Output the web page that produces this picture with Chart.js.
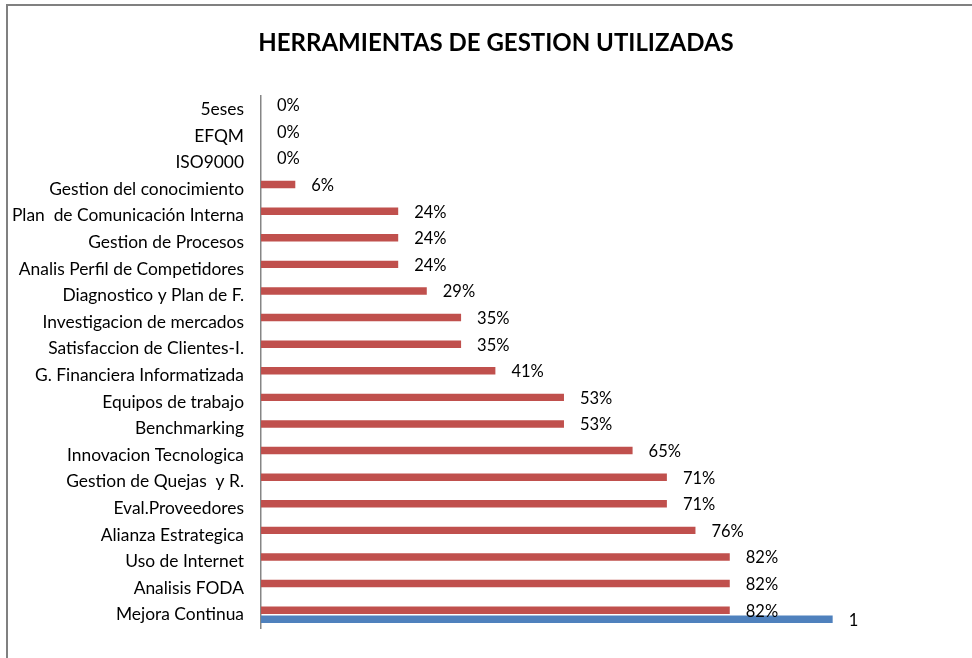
<!DOCTYPE html>
<html>
<head>
<meta charset="utf-8">
<script src="https://cdn.jsdelivr.net/npm/chart.js@4/dist/chart.umd.min.js"></script>
<style>
  html, body { margin: 0; padding: 0; background: #fff; overflow: hidden; }
  .frame { position: absolute; left: 6px; top: 4px; width: 1000px; height: 700px;
           border-left: 2px solid #808080; border-top: 2px solid #808080; }
  #wrap { position: absolute; left: 0; top: 0; width: 972px; height: 658px; }
</style>
</head>
<body>
<div class="frame"></div>
<div id="wrap"><canvas id="chart"></canvas></div>
<script>
// --- Data ---
const chartTitle = 'HERRAMIENTAS DE GESTION UTILIZADAS';
const categories = [
    '5eses', 'EFQM', 'ISO9000', 'Gestion del conocimiento',
    'Plan  de Comunicación Interna', 'Gestion de Procesos',
    'Analis Perfil de Competidores', 'Diagnostico y Plan de F.',
    'Investigacion de mercados', 'Satisfaccion de Clientes-I.',
    'G. Financiera Informatizada', 'Equipos de trabajo', 'Benchmarking',
    'Innovacion Tecnologica', 'Gestion de Quejas  y R.', 'Eval.Proveedores',
    'Alianza Estrategica', 'Uso de Internet', 'Analisis FODA', 'Mejora Continua'
];
const usage = [
    0, 0, 0, 0.06, 0.24, 0.24, 0.24, 0.29, 0.35, 0.35,
    0.41, 0.53, 0.53, 0.65, 0.71, 0.71, 0.76, 0.82, 0.82, 0.82
];
const totalBar = [
    null, null, null, null, null, null, null, null, null, null,
    null, null, null, null, null, null, null, null, null, 1
];

const FONT = 'Lato, "Open Sans", sans-serif';

// title drawn by hand so it can sit off-centre like the original
const titlePlugin = {
    id: 'titlePlugin',
    afterDraw(chart) {
        const ctx = chart.ctx;
        ctx.save();
        ctx.font = 'bold 24px ' + FONT;
        ctx.fillStyle = '#000';
        ctx.textAlign = 'center';
        ctx.textBaseline = 'middle';
        ctx.fillText(chartTitle, 496, 43);
        ctx.restore();
    }
};

// data labels drawn just right of each bar end
const barLabels = {
    id: 'barLabels',
    afterDatasetsDraw(chart) {
        const ctx = chart.ctx;
        ctx.save();
        ctx.font = '16.5px ' + FONT;
        ctx.fillStyle = '#000';
        ctx.textBaseline = 'middle';
        ctx.textAlign = 'left';
        chart.data.datasets.forEach((ds, i) => {
            const meta = chart.getDatasetMeta(i);
            meta.data.forEach((bar, j) => {
                const v = ds.data[j];
                if (v === null || v === undefined) return;
                const txt = i === 0 ? Math.round(v * 100) + '%' : String(v);
                ctx.fillText(txt, bar.x + 16, bar.y + 1);
            });
        });
        ctx.restore();
    }
};

new Chart(document.getElementById('chart'), {
    type: 'bar',
    data: {
        labels: categories,
        datasets: [
            { label: 'Uso', data: usage, backgroundColor: '#C0504D' },
            { label: 'Total', data: totalBar, backgroundColor: '#4F81BD' }
        ]
    },
    options: {
        indexAxis: 'y',
        responsive: true,
        maintainAspectRatio: false,
        animation: false,
        categoryPercentage: 0.68,
        barPercentage: 0.82,
        layout: { padding: { left: 0, right: 25, top: 96, bottom: 30 } },
        plugins: {
            legend: { display: false },
            tooltip: { enabled: false },
            title: { display: false }
        },
        scales: {
            x: { display: false, min: 0, max: 1.2 },
            y: {
                grid: { display: false, drawTicks: false },
                border: { display: true, color: '#868686', width: 1.5 },
                ticks: { color: '#000', font: { family: FONT, size: 17.4 }, padding: 17, autoSkip: false },
                afterFit(scale) { scale.width = 261; }
            }
        }
    },
    plugins: [barLabels, titlePlugin]
});
</script>
</body>
</html>
